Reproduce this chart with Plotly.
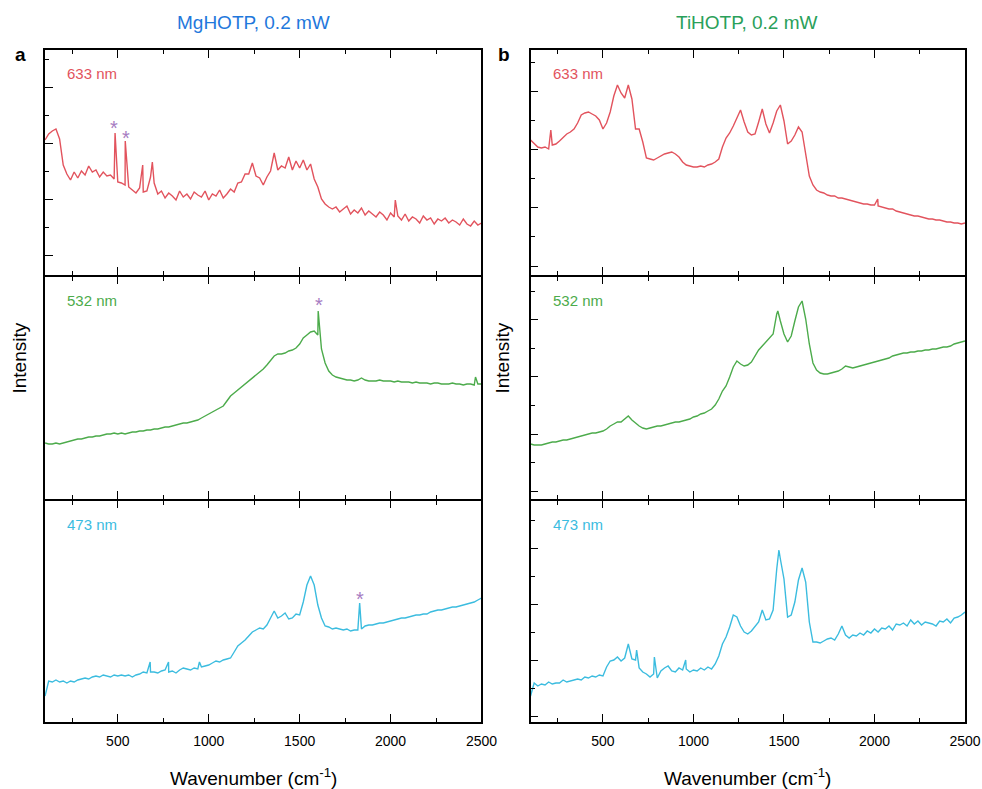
import plotly.graph_objects as go

# ---------------- data (intensity in arbitrary units) -------------
WN = list(range(100, 2501, 20))  # wavenumber sampling grid (cm-1)

# MgHOTP 633 nm
mg633_y = [135, 141, 144, 146, 136, 110, 101, 95, 103, 97,
           104, 100, 109, 103, 105, 98, 103, 99, 100, 96,
           93, 92, 90, 88, 85, 82, 87, 83, 84, 98,
           92, 81, 84, 77, 82, 79, 75, 84, 78, 81,
           76, 83, 80, 78, 84, 75, 81, 79, 85, 77,
           81, 86, 83, 92, 93, 101, 101, 112, 99, 97,
           90, 98, 104, 122, 105, 109, 107, 118, 105, 114,
           107, 115, 105, 111, 96, 88, 76, 71, 68, 66,
           68, 63, 66, 69, 61, 65, 62, 67, 60, 64,
           61, 58, 63, 60, 55, 62, 58, 59, 55, 61,
           54, 58, 56, 52, 59, 55, 57, 51, 56, 54,
           57, 52, 55, 53, 50, 56, 51, 49, 54, 50,
           52]
mg633_spk_x = [485, 541, 637, 690, 2026]
mg633_spk_y = [142, 134, 110, 113, 75]

# MgHOTP 532 nm
mg532_y = [56, 55, 55, 56, 55, 56, 57, 58, 59, 60,
           60, 61, 62, 62, 63, 63, 64, 65, 65, 66,
           65, 66, 65, 66, 67, 67, 68, 68, 69, 69,
           70, 70, 71, 72, 72, 73, 74, 75, 76, 76,
           77, 78, 79, 81, 83, 85, 87, 89, 91, 93,
           98, 103, 106, 109, 112, 115, 118, 121, 124, 127,
           130, 134, 138, 143, 145, 145, 146, 148, 149, 151,
           155, 161, 164, 167, 168, 164, 150, 136, 128, 124,
           122, 121, 120, 119, 119, 118, 119, 121, 119, 118,
           118, 118, 119, 118, 118, 118, 117, 118, 117, 117,
           117, 116, 117, 116, 116, 116, 115, 116, 116, 115,
           115, 115, 116, 115, 115, 114, 115, 115, 114, 115,
           115]
mg532_spk_x = [1602, 2467]
mg532_spk_y = [188, 122]

# MgHOTP 473 nm
mg473_y = [26, 41, 40, 42, 40, 41, 39, 41, 40, 42,
           43, 44, 43, 45, 46, 45, 47, 46, 45, 47,
           46, 47, 46, 47, 45, 47, 48, 50, 49, 50,
           50, 49, 51, 52, 50, 51, 49, 52, 54, 53,
           52, 54, 53, 55, 56, 57, 59, 61, 60, 62,
           63, 64, 70, 76, 79, 82, 86, 90, 92, 94,
           93, 97, 104, 111, 104, 106, 109, 103, 104, 108,
           107, 120, 137, 146, 137, 117, 104, 96, 95, 93,
           94, 93, 92, 93, 91, 92, 92, 93, 96, 97,
           97, 98, 99, 99, 100, 101, 102, 103, 104, 104,
           105, 106, 107, 107, 108, 108, 110, 111, 112, 112,
           113, 114, 115, 115, 116, 117, 118, 119, 120, 122,
           124]
mg473_spk_x = [678, 779, 949, 1830]
mg473_spk_y = [60, 60, 60, 119]

# TiHOTP 633 nm
ti633_y = [135, 131, 128, 127, 128, 126, 130, 131, 134, 138,
           141, 143, 146, 152, 160, 162, 163, 161, 159, 155,
           146, 152, 163, 179, 190, 182, 177, 190, 176, 146,
           146, 133, 117, 116, 115, 117, 119, 121, 122, 123,
           121, 118, 113, 110, 109, 108, 108, 109, 108, 110,
           111, 113, 116, 128, 137, 142, 149, 157, 165, 153,
           143, 140, 141, 153, 166, 151, 142, 152, 164, 170,
           154, 131, 134, 140, 148, 143, 122, 99, 90, 85,
           83, 82, 80, 79, 79, 77, 77, 76, 75, 74,
           73, 72, 71, 71, 70, 70, 69, 68, 67, 66,
           66, 64, 63, 62, 61, 60, 59, 59, 58, 57,
           56, 56, 55, 55, 54, 53, 53, 52, 52, 51,
           52]
ti633_spk_x = [212, 2018]
ti633_spk_y = [145, 76]

# TiHOTP 532 nm
ti532_y = [55, 54, 54, 54, 55, 56, 57, 57, 58, 59,
           59, 60, 61, 62, 63, 64, 65, 66, 66, 67,
           68, 70, 73, 75, 77, 77, 80, 83, 79, 76,
           73, 71, 70, 71, 72, 73, 73, 74, 75, 76,
           77, 77, 78, 79, 80, 82, 83, 85, 86, 88,
           90, 94, 100, 108, 113, 122, 132, 138, 135, 133,
           134, 137, 143, 149, 153, 157, 161, 165, 185, 178,
           165, 157, 163, 178, 192, 198, 180, 155, 136, 129,
           126, 125, 125, 126, 127, 128, 130, 133, 132, 131,
           132, 133, 134, 135, 136, 137, 138, 139, 140, 141,
           143, 144, 145, 146, 146, 147, 147, 148, 148, 149,
           149, 150, 150, 151, 152, 152, 153, 155, 156, 157,
           158]
ti532_spk_x = [1466]
ti532_spk_y = [188]

# TiHOTP 473 nm
ti473_y = [26, 39, 36, 38, 37, 40, 38, 39, 39, 42,
           40, 41, 42, 43, 42, 45, 44, 46, 45, 47,
           46, 55, 61, 62, 65, 61, 64, 78, 63, 62,
           54, 50, 48, 45, 48, 44, 51, 54, 56, 51,
           50, 54, 52, 53, 50, 52, 51, 54, 52, 55,
           53, 58, 66, 78, 85, 95, 107, 105, 96, 90,
           88, 91, 95, 100, 112, 102, 103, 112, 153, 163,
           143, 105, 107, 120, 142, 154, 140, 100, 80, 80,
           79, 81, 83, 84, 82, 88, 96, 87, 84, 87,
           86, 89, 87, 91, 89, 93, 90, 94, 93, 96,
           92, 98, 97, 99, 96, 102, 98, 101, 97, 100,
           99, 98, 96, 101, 100, 103, 99, 104, 105, 107,
           110]
ti473_spk_x = [686, 784, 957, 1472]
ti473_spk_y = [72, 65, 62, 172]

# asterisk marks (wavenumber, intensity) per panel
star_mg633_x = [480, 546]
star_mg633_y = [152, 142]
star_mg532_x = [1605]
star_mg532_y = [199]
star_mg473_x = [1834]
star_mg473_y = [128]

x_ticks = [500, 1000, 1500, 2000, 2500]

# ---------------- styling / layout ----------------
FW, FH = 982, 789
W_EFF = 965  # rendered plotting width observed in the viewer
RED, GREEN, CYAN = '#e2535d', '#4cab4b', '#3bbcdf'
PURPLE = '#a77cc2'
FONT = 'Arial, Liberation Sans, sans-serif'
LW = 1.6

cols = [(45, 481), (530, 964)]
rows = [(50, 275), (275 + LW, 499), (499 + LW, 722)]


def merge(base, sx, sy):
    pts = sorted(list(zip(WN, base)) + list(zip(sx, sy)))
    return [p[0] for p in pts], [p[1] for p in pts]


panels = [
    (0, 0, merge(mg633_y, mg633_spk_x, mg633_spk_y), RED, '633 nm', (star_mg633_x, star_mg633_y), (19.3, 56)),
    (0, 1, merge(mg532_y, mg532_spk_x, mg532_spk_y), GREEN, '532 nm', (star_mg532_x, star_mg532_y), None),
    (0, 2, merge(mg473_y, mg473_spk_x, mg473_spk_y), CYAN, '473 nm', (star_mg473_x, star_mg473_y), None),
    (1, 0, merge(ti633_y, ti633_spk_x, ti633_spk_y), RED, '633 nm', None, (9.0, 58.2)),
    (1, 1, merge(ti532_y, ti532_spk_x, ti532_spk_y), GREEN, '532 nm', None, (7.7, 57.2)),
    (1, 2, merge(ti473_y, ti473_spk_x, ti473_spk_y), CYAN, '473 nm', None, (5.3, 56.2)),
]

fig = go.Figure()
annotations = []
layout_axes = {}


def px_x(p):
    return p / W_EFF


def px_y(p):
    return 1 - p / FH


for i, (c, r, (xs, ys), color, label, stars, yt) in enumerate(panels, start=1):
    xa = 'x' if i == 1 else f'x{i}'
    ya = 'y' if i == 1 else f'y{i}'
    x0, x1 = cols[c]
    top, bot = rows[r]
    H = bot - top
    fig.add_trace(go.Scatter(x=xs, y=ys, mode='lines', xaxis=xa, yaxis=ya,
                             line=dict(color=color, width=1.4), showlegend=False,
                             hoverinfo='skip'))
    layout_axes[f'xaxis{"" if i == 1 else i}'] = dict(
        domain=[px_x(x0), min(px_x(x1), 1.0)], anchor=ya, range=[100, 2500],
        showline=True, linecolor='black', linewidth=LW, mirror='ticks',
        ticks='inside', ticklen=8, tickwidth=1.3, tickcolor='black',
        tickmode='array', tickvals=x_ticks, ticklabelstandoff=5,
        minor=dict(ticks='inside', ticklen=4.5, tickwidth=1.2, tickcolor='black',
                   dtick=250, tick0=0),
        showticklabels=(r == 2), tickfont=dict(family=FONT, size=14, color='black'),
        showgrid=False, zeroline=False, fixedrange=True)
    ydict = dict(domain=[px_y(bot), px_y(top)], anchor=xa, range=[0, H],
                 showline=True, linecolor='black', linewidth=LW, mirror=True,
                 showticklabels=False, showgrid=False, zeroline=False, fixedrange=True)
    if yt is None:
        ydict.update(ticks='')
    else:
        ydict.update(ticks='inside', ticklen=8, tickwidth=1.3, tickcolor='black',
                     tickmode='linear', tick0=yt[0], dtick=yt[1],
                     minor=dict(ticks='inside', ticklen=4.5, tickwidth=1.2,
                                tickcolor='black', dtick=yt[1] / 2, tick0=yt[0]))
    layout_axes[f'yaxis{"" if i == 1 else i}'] = ydict
    annotations.append(dict(x=px_x(x0 + 20), y=px_y(rows[r][0] + 24), xref='paper', yref='paper',
                            text=label, showarrow=False, xanchor='left', yanchor='middle',
                            font=dict(family=FONT, size=15, color=color)))
    if stars:
        for sx, sy in zip(*stars):
            annotations.append(dict(x=sx, y=sy, xref=xa, yref=ya, text='*', showarrow=False,
                                    xanchor='center', yanchor='middle', yshift=-5,
                                    font=dict(family=FONT, size=20, color=PURPLE)))

annotations += [
    dict(x=px_x(253), y=px_y(22), text='MgHOTP, 0.2 mW', font=dict(family=FONT, size=19, color='#1f78dc')),
    dict(x=px_x(746), y=px_y(22), text='TiHOTP, 0.2 mW', font=dict(family=FONT, size=19, color='#2aa05a')),
    dict(x=px_x(20), y=px_y(54), text='<b>a</b>', font=dict(family=FONT, size=19, color='black')),
    dict(x=px_x(503), y=px_y(54), text='<b>b</b>', font=dict(family=FONT, size=19, color='black')),
    dict(x=px_x(18.5), y=px_y(358), text='Intensity', textangle=-90, font=dict(family=FONT, size=19, color='black')),
    dict(x=px_x(501), y=px_y(358), text='Intensity', textangle=-90, font=dict(family=FONT, size=19, color='black')),
    dict(x=px_x(253), y=px_y(777), text='Wavenumber (cm<sup>-1</sup>)', font=dict(family=FONT, size=19, color='black')),
    dict(x=px_x(747), y=px_y(777), text='Wavenumber (cm<sup>-1</sup>)', font=dict(family=FONT, size=19, color='black')),
]
for a in annotations[-8:]:
    a.update(xref='paper', yref='paper', showarrow=False, xanchor='center', yanchor='middle')

fig.update_layout(width=FW, height=FH, margin=dict(l=0, r=0, t=0, b=0),
                  paper_bgcolor='white', plot_bgcolor='white',
                  annotations=annotations, **layout_axes)

fig.write_html('out.html')
